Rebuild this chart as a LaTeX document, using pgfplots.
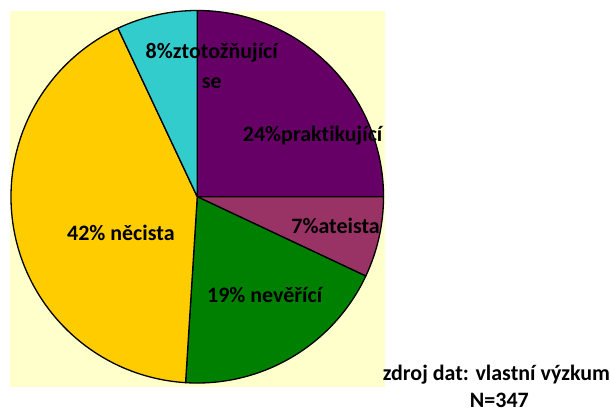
\documentclass[border=0pt]{standalone}
\usepackage{pgfplots}
\pgfplotsset{compat=1.18}
\usepackage{pgfplotstable}
\usepackage{fontspec}
\setmainfont{Carlito}[Ligatures={NoCommon}]
\definecolor{cPrak}{HTML}{660066}
\definecolor{cAte}{HTML}{993366}
\definecolor{cNev}{HTML}{008000}
\definecolor{cNec}{HTML}{FFCC00}
\definecolor{cZto}{HTML}{33CCCC}
\definecolor{cBg}{HTML}{FFFFCC}
% share of each slice (percent), clockwise from 12 o'clock
\pgfplotstableread{
value
25
7
19
42
7
}\piedata
\begin{document}
\begin{tikzpicture}
\begin{axis}[
  x=1pt, y=1pt,
  xmin=0, xmax=610, ymin=0, ymax=415,
  hide axis, clip=false,
]
\pgfplotsextra{
  \path (axis cs:0,0) rectangle (axis cs:610,415);
  \fill[cBg] (axis cs:10,28) rectangle (axis cs:385,404);
  \gdef\startangle{90}
  \foreach \i/\col in {0/cPrak,1/cAte,2/cNev,3/cNec,4/cZto}{
    \pgfplotstablegetelem{\i}{value}\of\piedata
    \pgfmathsetmacro\endangle{\startangle-3.6*\pgfplotsretval}
    \filldraw[fill=\col, draw=black, line width=1.3pt, line join=round]
      (axis cs:197.5,218) -- ++(\startangle:186.5pt)
      arc[start angle=\startangle, end angle=\endangle, radius=186.5pt] -- cycle;
    \global\let\startangle\endangle
  }
}
\tikzset{lbl/.style={font=\bfseries\fontsize{22}{26}\selectfont, inner sep=0pt}}
\node[lbl, font=\bfseries\fontsize{22}{30}\selectfont, align=center, anchor=north] at (axis cs:212,372) {8\%ztotožňující\\se};
\node[lbl] at (axis cs:313,279) {24\%praktikující};
\node[lbl] at (axis cs:336,189) {7\%ateista};
\node[lbl] at (axis cs:265,120) {19\% nevěřící};
\node[lbl] at (axis cs:121,182) {42\% něcista};
\node[lbl] at (axis cs:497,40) {zdroj dat: vlastní výzkum};
\node[lbl] at (axis cs:500,14) {N=347};
\end{axis}
\end{tikzpicture}
\end{document}
